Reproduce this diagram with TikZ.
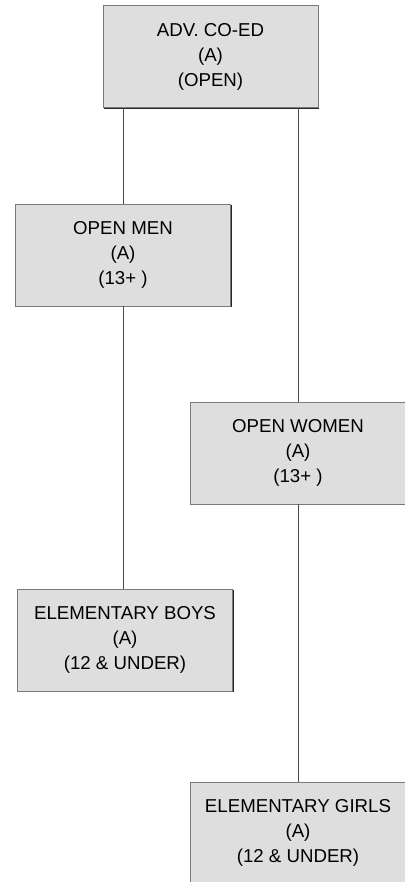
\documentclass[tikz,border=0pt]{standalone}
\usepackage{fontspec}
\setmainfont{Liberation Sans}
\usetikzlibrary{shadows}
\definecolor{boxfill}{HTML}{DEDEDE}
\definecolor{boxline}{HTML}{7A7A7A}
\definecolor{wire}{HTML}{4A4A4A}
\tikzset{
	division/.style={draw=boxline, line width=0.6pt, fill=boxfill, align=center,
		minimum width=161.25pt, minimum height=76.5pt, inner sep=0pt,
		font=\fontsize{14}{18.75}\selectfont,
		drop shadow={shadow xshift=0.9pt, shadow yshift=-0.9pt, fill=black!85, opacity=1}},
	branch/.style={draw=wire, line width=0.75pt}
}

\begin{document}
\begin{tikzpicture}[x=0.75pt, y=-0.75pt]
			%%%%% START %%%%%
			
			\useasboundingbox (0, 0) rectangle (404, 882);
			
			\node[division] (adv) at (210.5, 56.5) {ADV. CO-ED\\(A)\\(OPEN)};
			
			\node[division] (men) at (123, 255) {OPEN MEN\\(A)\\(13+ )};
			\node[division] (women) at (298, 453) {OPEN WOMEN\\(A)\\(13+ )};
			
			\node[division] (boys) at (125, 640) {ELEMENTARY BOYS\\(A)\\(12 \& UNDER)};
			\node[division] (girls) at (298, 833) {ELEMENTARY GIRLS\\(A)\\(12 \& UNDER)};
			
			\draw[branch] (adv.south -| men.north) -- (men.north);
			\draw[branch] (men.south) -- (men.south |- boys.north);
			\draw[branch] (adv.south -| women.north) -- (women.north);
			\draw[branch] (women.south) -- (girls.north);
			
			%%%%% END %%%%%
\end{tikzpicture}
\end{document}
